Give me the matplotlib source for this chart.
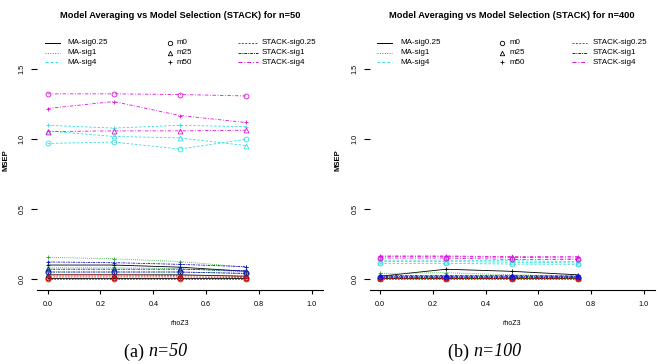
import numpy as np
import matplotlib
matplotlib.use('Agg')
import matplotlib.pyplot as plt
from matplotlib.lines import Line2D

W, H = 659, 364

rho = [0.0, 0.25, 0.5, 0.75]
x_ticks = [0.0, 0.2, 0.4, 0.6, 0.8, 1.0]
y_ticks = [0.0, 0.5, 1.0, 1.5]

methods = ['MA-sig0.25', 'MA-sig1', 'MA-sig4', 'STACK-sig0.25', 'STACK-sig1', 'STACK-sig4']
models = ['m0', 'm25', 'm50']
titles = ['Model Averaging vs Model Selection (STACK) for n=50',
          'Model Averaging vs Model Selection (STACK) for n=400']
captions = [('(a) ', 'n=50'), ('(b) ', 'n=100')]

# MSEP per method, per model (m0, m25, m50), over rho
msep_n50 = {
    'MA-sig0.25':    [[0.01, 0.01, 0.01, 0.01], [0.03, 0.03, 0.03, 0.02], [0.10, 0.10, 0.085, 0.055]],
    'MA-sig1':       [[0.05, 0.05, 0.05, 0.04], [0.08, 0.08, 0.075, 0.05], [0.155, 0.145, 0.125, 0.085]],
    'MA-sig4':       [[0.97, 0.98, 0.93, 1.00], [1.06, 1.02, 1.01, 0.955], [1.10, 1.08, 1.10, 1.09]],
    'STACK-sig0.25': [[0.0, 0.0, 0.0, 0.0], [0.015, 0.015, 0.015, 0.01], [0.03, 0.03, 0.025, 0.02]],
    'STACK-sig1':    [[0.05, 0.05, 0.05, 0.04], [0.07, 0.07, 0.07, 0.06], [0.122, 0.117, 0.105, 0.088]],
    'STACK-sig4':    [[1.325, 1.325, 1.32, 1.31], [1.055, 1.06, 1.06, 1.065], [1.22, 1.27, 1.17, 1.12]],
}
msep_n400 = {
    'MA-sig0.25':    [[0.005, 0.005, 0.005, 0.005], [0.01, 0.01, 0.01, 0.01], [0.02, 0.07, 0.055, 0.03]],
    'MA-sig1':       [[0.01, 0.01, 0.01, 0.01], [0.02, 0.02, 0.02, 0.015], [0.04, 0.045, 0.03, 0.02]],
    'MA-sig4':       [[0.112, 0.112, 0.107, 0.105], [0.125, 0.125, 0.12, 0.115], [0.135, 0.135, 0.13, 0.125]],
    'STACK-sig0.25': [[0.003, 0.003, 0.003, 0.003], [0.008, 0.008, 0.008, 0.008], [0.012, 0.012, 0.012, 0.01]],
    'STACK-sig1':    [[0.015, 0.015, 0.015, 0.015], [0.02, 0.02, 0.02, 0.02], [0.025, 0.025, 0.025, 0.022]],
    'STACK-sig4':    [[0.15, 0.15, 0.14, 0.14], [0.16, 0.16, 0.155, 0.15], [0.165, 0.165, 0.16, 0.16]],
}

colors = {'MA-sig0.25': 'black', 'MA-sig1': '#22aa22', 'MA-sig4': '#33dddd',
          'STACK-sig0.25': '#ee1111', 'STACK-sig1': '#1111cc', 'STACK-sig4': '#dd11dd'}
styles = {'MA-sig0.25': '-', 'MA-sig1': (0, (1, 1.5)), 'MA-sig4': (0, (3, 2)),
          'STACK-sig0.25': (0, (2, 1.5)), 'STACK-sig1': (0, (3, 1, 1, 1)),
          'STACK-sig4': (0, (4, 2, 1, 2))}
markers = {'m0': 'o', 'm25': '^', 'm50': '+'}


def fx(px):
    return px / W


def fy(py):
    return 1 - py / H


plt.rcParams['font.family'] = ['Liberation Sans', 'DejaVu Sans']
fig = plt.figure(figsize=(W / 100, H / 100), dpi=100)

panels = [
    dict(left=37, right=322.5, data=msep_n50, title=titles[0], tcx=180, ylx=6,
         leg=(45, 60, 67, 170, 177, 238, 258, 262), cap=captions[0], capx=148),
    dict(left=369.5, right=654.5, data=msep_n400, title=titles[1], tcx=512, ylx=338,
         leg=(377, 392, 400, 502, 510, 572, 587, 593), cap=captions[1], capx=473),
]
top_px, bot_px = 61, 289.5

for p in panels:
    ax = fig.add_axes([fx(p['left']), fy(bot_px), (p['right'] - p['left']) / W, (bot_px - top_px) / H])
    ax.set_xlim(-0.04, 1.04)
    ax.set_ylim(-0.075, 1.56)
    for meth in methods:
        for k, mod in enumerate(models):
            vals = p['data'][meth][k]
            ax.plot(rho, vals, color=colors[meth], lw=0.6, ls=styles[meth],
                    marker=markers[mod], ms=3.5, mfc='none', mew=0.6)
    for s in ['top', 'right', 'left']:
        ax.spines[s].set_visible(False)
    ax.spines['bottom'].set_linewidth(0.8)
    ax.set_xticks(x_ticks)
    ax.set_xticklabels([f'{t:.1f}' for t in x_ticks], fontsize=5.2)
    ax.set_yticks(y_ticks)
    ax.set_yticklabels([f'{t:.1f}' for t in y_ticks], fontsize=5.2, rotation=90, va='center')
    ax.tick_params(axis='x', length=3, width=0.8, pad=5)
    ax.tick_params(axis='y', length=4, width=0.8, pad=4)
    ax.set_xlabel('rhoZ3', fontsize=5, labelpad=9)
    fig.text(fx(p['ylx']), fy(160), 'MSEP', rotation=90, ha='center', va='center',
             fontsize=5.5, fontweight='bold')

    fig.text(fx(p['tcx']), fy(15), p['title'], ha='center', va='center',
             fontsize=6.7, fontweight='bold')

    # legend (R style, no box)
    l0, l1, t1, mx, t2, s0, s1, t3 = p['leg']
    rows = [43, 52.5, 62]
    for r, py in enumerate(rows):
        m1 = methods[r]
        fig.add_artist(Line2D([fx(l0), fx(l1)], [fy(py), fy(py)], transform=fig.transFigure,
                              color=colors[m1], lw=0.7, ls=styles[m1]))
        fig.text(fx(t1), fy(py), m1, fontsize=5.8, va='center', ha='left')
        fig.add_artist(Line2D([fx(mx)], [fy(py)], transform=fig.transFigure, color='black',
                              marker=markers[models[r]], ms=3.2, mfc='none', mew=0.6, ls='none'))
        fig.text(fx(t2), fy(py), models[r], fontsize=5.8, va='center', ha='left')
        m3 = methods[r + 3]
        fig.add_artist(Line2D([fx(s0), fx(s1)], [fy(py), fy(py)], transform=fig.transFigure,
                              color=colors[m3], lw=0.7, ls=styles[m3]))
        fig.text(fx(t3), fy(py), m3, fontsize=5.8, va='center', ha='left')

    lab, it = p['cap']
    fig.text(fx(p['capx']), fy(352), lab, ha='right', va='center', fontsize=13,
             family='Liberation Serif')
    fig.text(fx(p['capx']), fy(352), it, ha='left', va='center', fontsize=13,
             family='Liberation Serif', style='italic')

fig.savefig('out.png', dpi=100)
